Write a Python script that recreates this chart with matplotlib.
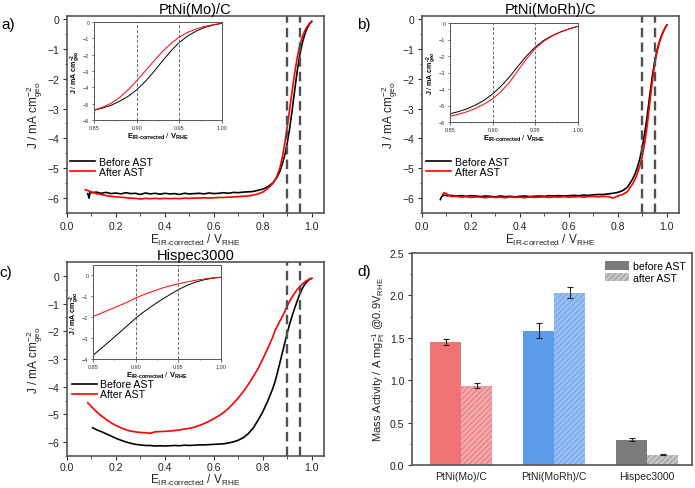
import numpy as np
import matplotlib
matplotlib.use("Agg")
import matplotlib.pyplot as plt
from matplotlib.ticker import MultipleLocator, FormatStrFormatter
from matplotlib.patches import Patch

plt.rcParams['font.family'] = ['Liberation Sans', 'DejaVu Sans']
plt.rcParams['mathtext.fontset'] = 'custom'
plt.rcParams['mathtext.rm'] = 'Liberation Sans'
plt.rcParams['mathtext.it'] = 'Liberation Sans:italic'
plt.rcParams['mathtext.bf'] = 'Liberation Sans:bold'
plt.rcParams['hatch.linewidth'] = 0.8

# ---------------- data ----------------
E_GRID = [0.10, 0.12, 0.14, 0.16, 0.18, 0.20, 0.22, 0.24, 0.26, 0.28,
          0.30, 0.32, 0.34, 0.36, 0.38, 0.40, 0.42, 0.44, 0.46, 0.48,
          0.50, 0.52, 0.54, 0.56, 0.58, 0.60, 0.62, 0.64, 0.66, 0.68,
          0.70, 0.72, 0.74, 0.76, 0.78, 0.80, 0.82, 0.84,
          0.85, 0.86, 0.87, 0.88, 0.89, 0.90, 0.91, 0.92, 0.93, 0.94,
          0.95, 0.96, 0.97, 0.98, 0.99, 1.00]

# Panel a: PtNi(Mo)/C
a_before_x = [0.085, 0.09, 0.095] + E_GRID
a_before_y = [-5.85, -6.00, -5.78,
              -5.82, -5.80, -5.84, -5.81, -5.85, -5.83, -5.86, -5.82, -5.85, -5.84,
              -5.88, -5.83, -5.86, -5.84, -5.87, -5.84, -5.86, -5.85, -5.88, -5.84,
              -5.86, -5.85, -5.84, -5.86, -5.83, -5.85, -5.84, -5.82, -5.84, -5.81,
              -5.82, -5.80, -5.79, -5.78, -5.74, -5.70, -5.62, -5.50,
              -5.40, -5.27, -5.10, -4.85, -4.55, -4.15, -3.65, -3.05, -2.40, -1.78,
              -1.25, -0.85, -0.55, -0.33, -0.18, -0.08]
a_after_x = [0.075, 0.09] + E_GRID
a_after_y = [-5.72, -5.76,
             -5.80, -5.85, -5.88, -5.92, -5.94, -5.96, -5.97, -5.99, -6.00, -6.01,
             -6.03, -6.01, -6.02, -6.01, -6.02, -6.01, -6.02, -6.01, -6.02, -6.00,
             -6.01, -6.00, -6.00, -5.99, -6.00, -5.99, -5.98, -5.98, -5.97, -5.96,
             -5.95, -5.94, -5.93, -5.90, -5.86, -5.80, -5.68, -5.52,
             -5.40, -5.22, -4.98, -4.62, -4.15, -3.60, -3.00, -2.40, -1.82, -1.32,
             -0.92, -0.63, -0.42, -0.27, -0.16, -0.08]

# Panel b: PtNi(MoRh)/C
b_before_x = [0.075, 0.08, 0.09] + E_GRID
b_before_y = [-6.05, -5.95, -5.90,
              -5.92, -5.91, -5.93, -5.92, -5.94, -5.92, -5.93, -5.95, -5.93, -5.94,
              -5.96, -5.93, -5.95, -5.94, -5.96, -5.94, -5.93, -5.95, -5.94, -5.93,
              -5.94, -5.92, -5.93, -5.92, -5.93, -5.92, -5.91, -5.92, -5.90, -5.91,
              -5.89, -5.88, -5.88, -5.86, -5.84, -5.81, -5.75, -5.63,
              -5.50, -5.37, -5.20, -4.97, -4.68, -4.30, -3.82, -3.25, -2.60, -1.98,
              -1.45, -1.05, -0.76, -0.53, -0.35, -0.20]
b_after_x = [0.085, 0.09] + E_GRID
b_after_y = [-5.88, -5.82,
             -5.86, -5.95, -5.94, -5.97, -5.95, -5.98, -5.96, -5.97, -5.99, -5.96,
             -5.98, -5.97, -5.99, -5.96, -5.98, -5.97, -5.99, -5.96, -5.98, -5.97,
             -5.96, -5.98, -5.96, -5.97, -5.95, -5.97, -5.96, -5.95, -5.97, -5.95,
             -5.94, -5.96, -5.94, -5.95, -6.00, -5.93, -5.88, -5.78,
             -5.65, -5.53, -5.38, -5.17, -4.92, -4.60, -4.15, -3.58, -2.85, -2.15,
             -1.55, -1.10, -0.78, -0.54, -0.35, -0.20]

# Panel c: Hispec3000
c_before_x = [0.105] + E_GRID[1:]
c_before_y = [-5.48,
              -5.55, -5.62, -5.70, -5.78, -5.86, -5.93, -5.99, -6.04, -6.08,
              -6.10, -6.12, -6.12, -6.14, -6.13, -6.14, -6.13, -6.12, -6.13, -6.11,
              -6.12, -6.11, -6.10, -6.10, -6.09, -6.08, -6.07, -6.06, -6.03, -5.99,
              -5.93, -5.84, -5.70, -5.50, -5.22, -4.90, -4.52, -4.08,
              -3.82, -3.48, -3.13, -2.77, -2.41, -2.05, -1.73, -1.44, -1.17, -0.92,
              -0.68, -0.48, -0.32, -0.21, -0.13, -0.09]
c_after_x = [0.085] + E_GRID
c_after_y = [-4.58,
             -4.72, -4.90, -5.05, -5.18, -5.30, -5.40, -5.48, -5.55, -5.60, -5.63,
             -5.65, -5.66, -5.68, -5.63, -5.62, -5.61, -5.60, -5.58, -5.56, -5.53,
             -5.50, -5.46, -5.40, -5.33, -5.25, -5.15, -5.05, -4.93, -4.78, -4.60,
             -4.40, -4.18, -3.93, -3.65, -3.35, -3.00, -2.62, -2.22,
             -1.97, -1.80, -1.63, -1.46, -1.28, -1.08, -0.91, -0.76, -0.62, -0.50,
             -0.40, -0.31, -0.23, -0.17, -0.12, -0.09]

# Panel d: mass activity
categories = ['PtNi(Mo)/C', 'PtNi(MoRh)/C', 'Hispec3000']
ma_before = [1.45, 1.585, 0.30]
ma_before_err = [0.035, 0.09, 0.015]
ma_after = [0.935, 2.03, 0.12]
ma_after_err = [0.03, 0.065, 0.005]

titles = ['PtNi(Mo)/C', 'PtNi(MoRh)/C', 'Hispec3000']
legend_labels = ['Before AST', 'After AST']
dashed_E = [0.90, 0.95]

# ---------------- figure ----------------
W, H = 695, 489
fig = plt.figure(figsize=(W / 100, H / 100), dpi=100)


def px_axes(l, r, t, b):
    return fig.add_axes([l / W, 1 - b / H, (r - l) / W, (b - t) / H])


SPINE = '#555555'
XLAB = 'E$_{\\mathrm{IR\u2010corrected}}$ / V$_{\\mathrm{RHE}}$'
YLAB = 'J / mA cm$^{-2}_{\\mathrm{geo}}$'
XLAB_B = '$\\mathbf{E}_{\\mathbf{IR\u2010corrected}}$ / $\\mathbf{V}_{\\mathbf{RHE}}$'
YLAB_B = '$\\mathbf{J}$ / $\\mathbf{mA\\ cm}^{\\mathbf{-2}}_{\\mathbf{geo}}$'


def style_spines(ax, lw=1.2):
    for s in ax.spines.values():
        s.set_color(SPINE)
        s.set_linewidth(lw)


def main_panel(ax, xb, yb, xa, ya, ylim, title, leg_anchor, xlabelpad=1, xtickpad=2.5):
    ax.plot(xb, yb, color='black', lw=1.2, label=legend_labels[0])
    ax.plot(xa, ya, color='#ff0000', lw=1.2, label=legend_labels[1])
    for e in dashed_E:
        ax.axvline(e, color='#505050', lw=1.7, ls=(0, (4, 2.2)))
    ax.set_xlim(0, 1.05)
    ax.set_ylim(*ylim)
    ax.set_xticks([0.0, 0.2, 0.4, 0.6, 0.8, 1.0])
    ax.set_yticks([-6, -5, -4, -3, -2, -1, 0])
    ax.xaxis.set_major_formatter(FormatStrFormatter('%.1f'))
    ax.xaxis.set_minor_locator(MultipleLocator(0.1))
    ax.yaxis.set_minor_locator(MultipleLocator(0.5))
    ax.tick_params(which='major', direction='out', length=3, width=0.8,
                   labelsize=7.5, colors='#333333', labelcolor='#222222', pad=2.5)
    ax.tick_params(axis='x', which='major', pad=xtickpad)
    ax.tick_params(which='minor', direction='out', length=1.8, width=0.6, colors='#333333')
    ax.set_xlabel(XLAB, fontsize=8.5, labelpad=xlabelpad, color='#222222')
    ax.set_ylabel(YLAB, fontsize=8.5, labelpad=2, color='#222222')
    ax.set_title(title, fontsize=10.5, pad=1.5)
    style_spines(ax)
    ax.legend(loc='upper left', bbox_to_anchor=leg_anchor, frameon=False,
              fontsize=7.6, handlelength=2.4, handletextpad=0.3, labelspacing=0.0,
              borderpad=0, borderaxespad=0)


def inset_panel(ax, xb, yb, xa, ya, ylim, yticks):
    ax.plot(xb, yb, color='black', lw=0.7)
    ax.plot(xa, ya, color='#ff0000', lw=0.7)
    for e in dashed_E:
        ax.axvline(e, color='#666666', lw=0.7, ls=(0, (3, 2)))
    ax.set_xlim(0.85, 1.0)
    ax.set_ylim(*ylim)
    ax.set_xticks([0.85, 0.90, 0.95, 1.00])
    ax.xaxis.set_major_formatter(FormatStrFormatter('%.2f'))
    ax.set_yticks(yticks)
    ax.xaxis.set_minor_locator(MultipleLocator(0.025))
    ax.yaxis.set_minor_locator(MultipleLocator(0.5))
    ax.tick_params(which='major', direction='out', length=1.8, width=0.5,
                   labelsize=4, pad=1.5, colors='#333333')
    ax.tick_params(which='minor', direction='out', length=1.0, width=0.4, colors='#333333')
    ax.set_xlabel(XLAB_B, fontsize=5.5, labelpad=1)
    ax.set_ylabel(YLAB_B, fontsize=5, labelpad=1)
    style_spines(ax, lw=0.7)


axA = px_axes(67, 324, 17, 214)
axB = px_axes(422, 679, 17, 214)
axC = px_axes(67, 324, 263, 457)
axD = px_axes(412, 692, 254, 466)

main_panel(axA, a_before_x, a_before_y, a_after_x, a_after_y, (-6.5, 0.1), titles[0], (0.012, 0.284))
main_panel(axB, b_before_x, b_before_y, b_after_x, b_after_y, (-6.5, 0.1), titles[1], (0.016, 0.284))
main_panel(axC, c_before_x, c_before_y, c_after_x, c_after_y, (-6.5, 0.5), titles[2], (0.019, 0.395),
           xlabelpad=-0.5, xtickpad=1.5)

insA = px_axes(94, 222, 23, 121)
insB = px_axes(450, 578, 24, 123)
insC = px_axes(93, 221, 266, 360)
inset_panel(insA, a_before_x, a_before_y, a_after_x, a_after_y, (-6, 0), [-6, -5, -4, -3, -2, -1, 0])
inset_panel(insB, b_before_x, b_before_y, b_after_x, b_after_y, (-6, 0), [-6, -5, -4, -3, -2, -1, 0])
inset_panel(insC, c_before_x, c_before_y, c_after_x, c_after_y, (-4, 0.5), [-4, -3, -2, -1, 0])

# ---------------- panel d ----------------
before_colors = ['#F07373', '#5B9BEA', '#7B7B7B']
after_faces = ['#F4AAAA', '#98C0F2', '#C6C6C6']
after_hatch = ['#E77B7B', '#6EA5EC', '#9E9E9E']
xpos = np.arange(len(categories))
bw = 0.333
axD.bar(xpos - bw / 2, ma_before, bw, color=before_colors, edgecolor='none',
        yerr=ma_before_err, capsize=2.5, error_kw=dict(elinewidth=0.8, capthick=0.8, ecolor='#222222'))
axD.bar(xpos + bw / 2, ma_after, bw, color=after_faces, edgecolor=after_hatch, linewidth=0,
        hatch='//////',
        yerr=ma_after_err, capsize=2.5, error_kw=dict(elinewidth=0.8, capthick=0.8, ecolor='#222222'))
axD.set_xlim(-0.527, 2.48)
axD.set_ylim(0, 2.5)
axD.set_xticks(xpos)
axD.set_xticklabels(categories)
axD.set_yticks([0.0, 0.5, 1.0, 1.5, 2.0, 2.5])
axD.yaxis.set_major_formatter(FormatStrFormatter('%.1f'))
axD.yaxis.set_minor_locator(MultipleLocator(0.25))
axD.tick_params(axis='y', which='major', direction='out', length=3, width=0.8,
                labelsize=7.5, colors='#333333', labelcolor='#222222', pad=2.5)
axD.tick_params(axis='y', which='minor', direction='out', length=1.8, width=0.6, colors='#333333')
axD.tick_params(axis='x', length=0, labelsize=7.6, pad=4, labelcolor='#222222')
axD.set_ylabel('Mass Activity / A mg$_{\\mathrm{Pt}}^{-1}$ @0.9V$_{\\mathrm{RHE}}$',
               fontsize=8, labelpad=2, color='#222222')
style_spines(axD)
leg_handles = [Patch(facecolor=before_colors[2], edgecolor='none', label='before AST'),
               Patch(facecolor=after_faces[2], edgecolor=after_hatch[2], linewidth=0,
                     hatch='//////', label='after AST')]
axD.legend(handles=leg_handles, loc='upper left', bbox_to_anchor=(0.689, 0.962),
           frameon=False, fontsize=7.6, handlelength=2.3, handleheight=0.9,
           handletextpad=0.35, labelspacing=0.15, borderpad=0, borderaxespad=0)

# panel labels
fig.text(1 / W, 1 - 25 / H, 'a)', fontsize=11, va='center', ha='left')
fig.text(357 / W, 1 - 25 / H, 'b)', fontsize=11, va='center', ha='left')
fig.text(-1 / W, 1 - 273 / H, 'c)', fontsize=11, va='center', ha='left')
fig.text(357 / W, 1 - 272 / H, 'd)', fontsize=11, va='center', ha='left')

fig.savefig('out.png', dpi=100, facecolor='white')
